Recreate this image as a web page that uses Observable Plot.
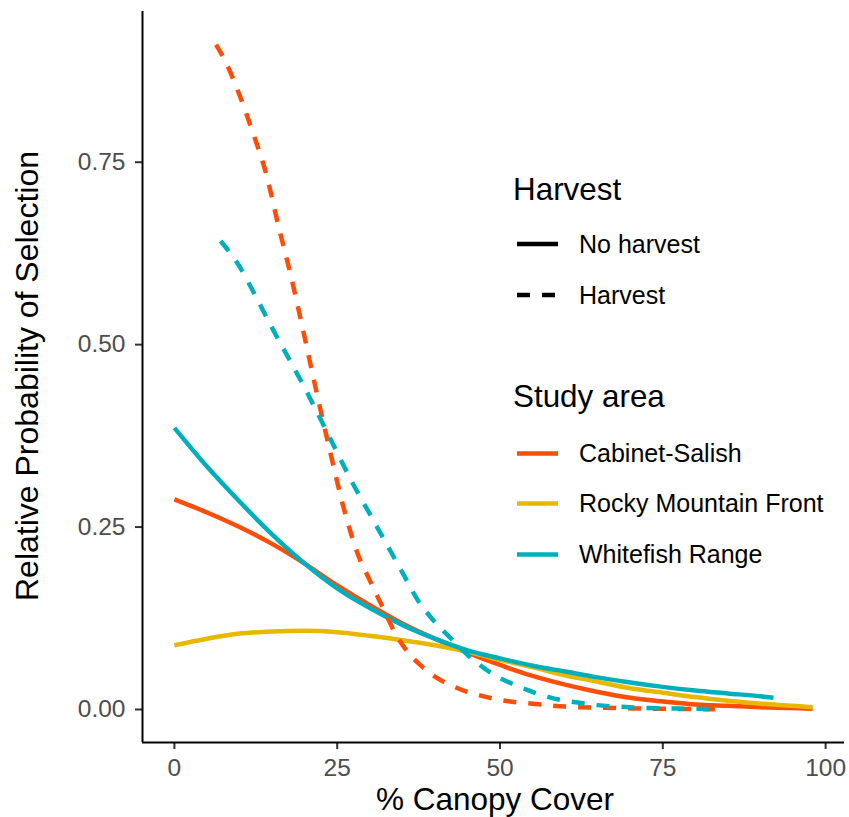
<!DOCTYPE html>
<html>
<head>
<meta charset="utf-8">
<script src="https://cdn.jsdelivr.net/npm/d3@7"></script>
<script src="https://cdn.jsdelivr.net/npm/@observablehq/plot@0.6"></script>
<style>
  html, body { margin: 0; padding: 0; background: #fff; }
  #chart svg { display: block; }
</style>
</head>
<body>
<div id="chart"></div>
<script>
// ---------- data ----------
const areas = ["Cabinet-Salish", "Rocky Mountain Front", "Whitefish Range"];
const areaColors = ["#FC4E07", "#E7B800", "#00AFBB"];
const harvestLevels = ["No harvest", "Harvest"];
const xTicks = [0, 25, 50, 75, 100];
const yTicks = [0, 0.25, 0.5, 0.75];
const xTitle = "% Canopy Cover";
const yTitle = "Relative Probability of Selection";

// Cabinet-Salish, no harvest
const csNoHarvestX = [0, 5, 10, 15, 20, 25, 30, 35, 40, 45, 50, 55, 60, 65, 70, 75, 80, 85, 90, 95, 98];
const csNoHarvestY = [0.288, 0.270, 0.250, 0.227, 0.200, 0.170, 0.143, 0.118, 0.097, 0.078, 0.061, 0.046, 0.034, 0.024, 0.016, 0.011, 0.007, 0.005, 0.003, 0.002, 0.001];
// Rocky Mountain Front, no harvest
const rmfNoHarvestX = [0, 5, 10, 15, 20, 25, 30, 35, 40, 45, 50, 55, 60, 65, 70, 75, 80, 85, 90, 95, 98];
const rmfNoHarvestY = [0.088, 0.097, 0.104, 0.107, 0.108, 0.106, 0.101, 0.095, 0.088, 0.079, 0.068, 0.058, 0.047, 0.038, 0.029, 0.023, 0.017, 0.012, 0.008, 0.005, 0.003];
// Whitefish Range, no harvest
const wrNoHarvestX = [0, 5, 10, 15, 20, 25, 30, 35, 40, 45, 50, 55, 60, 65, 70, 75, 80, 85, 90, 92];
const wrNoHarvestY = [0.386, 0.333, 0.285, 0.240, 0.200, 0.166, 0.139, 0.116, 0.097, 0.081, 0.070, 0.060, 0.052, 0.044, 0.037, 0.031, 0.026, 0.022, 0.018, 0.016];
// Cabinet-Salish, harvest
const csHarvestX = [6.4, 8, 10, 12, 14, 16, 18, 20, 22, 24, 26, 28, 30, 32, 34, 36, 38, 40, 42.5, 45, 47.5, 50, 55, 60, 65, 70, 75, 80, 83];
const csHarvestY = [0.911, 0.885, 0.842, 0.792, 0.737, 0.662, 0.590, 0.510, 0.428, 0.350, 0.276, 0.217, 0.177, 0.140, 0.103, 0.077, 0.059, 0.045, 0.033, 0.024, 0.018, 0.013, 0.008, 0.004, 0.0025, 0.0015, 0.001, 0.0005, 0.0003];
// Whitefish Range, harvest
const wrHarvestX = [7.1, 10, 12.5, 15, 17.5, 20, 22.5, 25, 27.5, 30, 32.5, 35, 37.5, 40, 42.5, 45, 47.5, 50, 52.5, 55, 57.5, 60, 62.5, 65, 70, 75, 80, 84];
const wrHarvestY = [0.642, 0.607, 0.566, 0.523, 0.482, 0.441, 0.397, 0.352, 0.308, 0.268, 0.228, 0.188, 0.148, 0.120, 0.097, 0.075, 0.057, 0.043, 0.033, 0.024, 0.017, 0.012, 0.009, 0.006, 0.003, 0.0015, 0.001, 0.0005];

// drawing order: solid lines first, then dashed
const seriesList = [
  { area: areas[0], harvest: harvestLevels[0], xs: csNoHarvestX, ys: csNoHarvestY },
  { area: areas[1], harvest: harvestLevels[0], xs: rmfNoHarvestX, ys: rmfNoHarvestY },
  { area: areas[2], harvest: harvestLevels[0], xs: wrNoHarvestX, ys: wrNoHarvestY },
  { area: areas[0], harvest: harvestLevels[1], xs: csHarvestX, ys: csHarvestY },
  { area: areas[2], harvest: harvestLevels[1], xs: wrHarvestX, ys: wrHarvestY }
];

// ---------- scales (ggplot-style 5% expansion) ----------
const allX = seriesList.flatMap(s => s.xs);
const allY = seriesList.flatMap(s => s.ys);
const [x0, x1] = d3.extent(allX);
const [y0, y1] = d3.extent(allY);
const xPad = (x1 - x0) * 0.05, yPad = (y1 - y0) * 0.05;
const xDomain = [x0 - xPad, x1 + xPad];
const yDomain = [y0 - yPad, y1 + yPad];

const dashPattern = "13,12";
const lineW = 4.5;
const FONT = "'Liberation Sans', Arial, Helvetica, sans-serif";

const lineMarks = seriesList.map(s => {
  const rows = s.xs.map((x, i) => ({ x, y: s.ys[i], area: s.area }));
  return Plot.line(rows, {
    x: "x", y: "y", stroke: "area",
    strokeWidth: lineW,
    curve: "monotone-x",
    strokeLinecap: "butt",
    strokeDasharray: s.harvest === "Harvest" ? dashPattern : null
  });
});

const W = 849, H = 817;
const plot = Plot.plot({
  width: W, height: H,
  marginLeft: 142, marginRight: 5, marginTop: 11, marginBottom: 75,
  style: { fontFamily: FONT, fontSize: "24.5px", background: "#fff", overflow: "visible" },
  x: { domain: xDomain },
  y: { domain: yDomain },
  color: { domain: areas, range: areaColors },
  marks: [
    Plot.axisX({ ticks: xTicks, tickSize: 7, tickPadding: 9, stroke: "#333", strokeWidth: 2, fill: "#4D4D4D", label: null }),
    Plot.axisY({ ticks: yTicks, tickSize: 7, tickPadding: 10, tickFormat: d3.format(".2f"), stroke: "#333", strokeWidth: 2, fill: "#4D4D4D", label: null }),
    Plot.ruleX([xDomain[0]], { stroke: "#000", strokeWidth: 2 }),
    Plot.ruleY([yDomain[0]], { stroke: "#000", strokeWidth: 2 }),
    ...lineMarks
  ]
});

document.getElementById("chart").appendChild(plot);

// ---------- axis titles and legend (real text) ----------
const svg = d3.select(plot);
const g = svg.append("g").attr("font-family", FONT).attr("fill", "#000").attr("text-anchor", "start");

g.append("text")
  .attr("x", 495).attr("y", 810)
  .attr("text-anchor", "middle").attr("font-size", 31.5)
  .text(xTitle);

g.append("text")
  .attr("transform", "translate(37.5,376) rotate(-90)")
  .attr("text-anchor", "middle").attr("font-size", 32)
  .text(yTitle);

const keyX1 = 517, keyX2 = 558, labelX = 579, titleX = 513;
const labelFs = 25, titleFs = 31.4;

g.append("text").attr("x", titleX).attr("y", 199.5).attr("font-size", titleFs).text("Harvest");
const harvestKeyY = [244, 295];
harvestLevels.forEach((h, i) => {
  g.append("line")
    .attr("x1", keyX1).attr("x2", keyX2)
    .attr("y1", harvestKeyY[i]).attr("y2", harvestKeyY[i])
    .attr("stroke", "#000").attr("stroke-width", lineW)
    .attr("stroke-dasharray", h === "Harvest" ? dashPattern : null);
  g.append("text")
    .attr("x", labelX).attr("y", harvestKeyY[i] + labelFs * 0.716 / 2)
    .attr("font-size", labelFs).text(h);
});

g.append("text").attr("x", titleX).attr("y", 407).attr("font-size", titleFs).text("Study area");
const areaKeyY = [453.5, 503.5, 554.5];
areas.forEach((a, i) => {
  g.append("line")
    .attr("x1", keyX1).attr("x2", keyX2)
    .attr("y1", areaKeyY[i]).attr("y2", areaKeyY[i])
    .attr("stroke", areaColors[i]).attr("stroke-width", lineW);
  g.append("text")
    .attr("x", labelX).attr("y", areaKeyY[i] + labelFs * 0.716 / 2)
    .attr("font-size", labelFs).text(a);
});
</script>
</body>
</html>
